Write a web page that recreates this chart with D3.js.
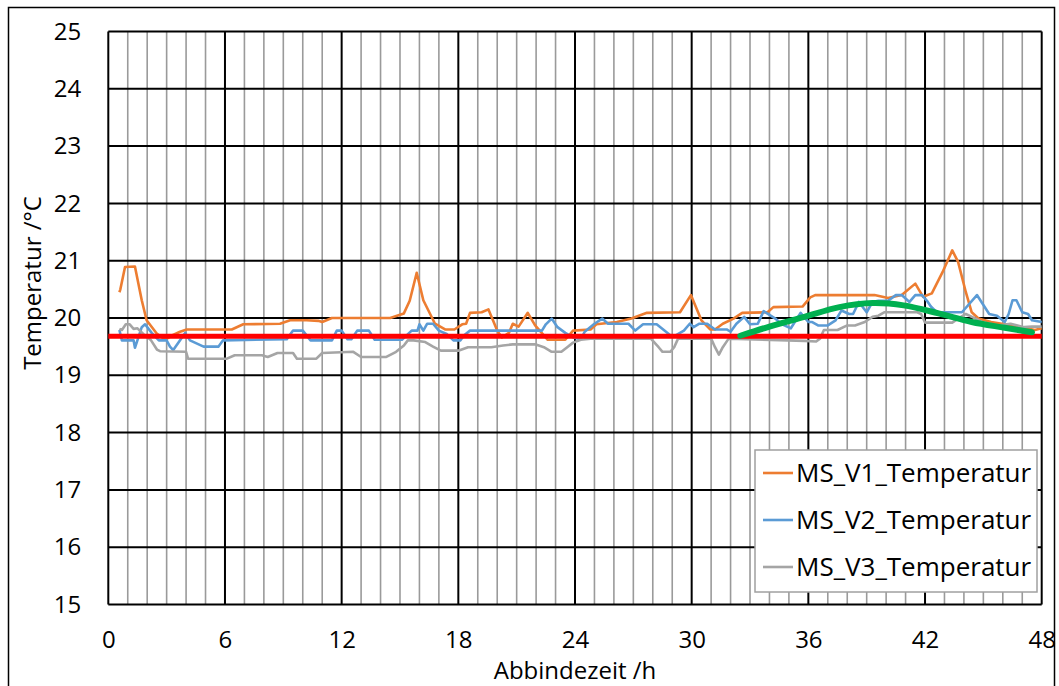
<!DOCTYPE html>
<html>
<head>
<meta charset="utf-8">
<script src="https://cdn.jsdelivr.net/npm/d3@7"></script>
<style>
  body { margin: 0; background: #fff; }
  text { font-family: "Open Sans", Lato, sans-serif; fill: #000; }
</style>
</head>
<body>
<div id="chart"></div>
<script>
// Zeit in h, Temperatur in °C
var v1 = [[0.57,20.45],[0.62,20.5],[0.86,20.89],[1.37,20.9],[1.72,20.31],[1.97,19.96],[2.49,19.73],[2.92,19.62],[3.3,19.7],[3.69,19.76],[4.03,19.8],[6.35,19.8],[6.94,19.89],[8.83,19.9],[9.35,19.96],[10.2,19.96],[10.8,19.95],[11.0,19.93],[11.5,20.0],[14.5,20.0],[15.2,20.08],[15.5,20.3],[15.86,20.79],[16.2,20.31],[16.8,19.9],[17.32,19.8],[17.8,19.8],[18.2,19.89],[18.4,19.9],[18.6,20.09],[19.2,20.1],[19.55,20.15],[20.0,19.78],[20.24,19.66],[20.6,19.74],[20.8,19.9],[21.1,19.85],[21.57,20.09],[21.95,19.87],[22.6,19.62],[23.5,19.62],[23.9,19.78],[24.8,19.8],[25.1,19.89],[26.15,19.93],[26.9,19.99],[27.7,20.09],[29.4,20.1],[29.96,20.4],[30.5,19.96],[30.95,19.8],[31.2,19.8],[31.6,19.9],[32.15,19.99],[32.6,20.09],[33.9,20.1],[34.2,20.19],[35.7,20.2],[36.1,20.36],[36.35,20.4],[39.4,20.4],[40.1,20.35],[40.8,20.4],[41.5,20.6],[41.9,20.37],[42.35,20.43],[42.9,20.8],[43.4,21.18],[43.7,20.98],[44.1,20.45],[44.4,20.1],[44.75,19.99],[45.4,19.93],[46.1,19.89],[46.8,19.85],[47.65,19.79],[48,19.82]];

var v2 = [[0.57,19.79],[0.7,19.61],[1.3,19.61],[1.37,19.48],[1.72,19.84],[1.89,19.89],[2.23,19.74],[2.6,19.61],[3.0,19.61],[3.17,19.5],[3.34,19.44],[3.69,19.61],[3.95,19.74],[4.2,19.61],[4.9,19.5],[5.66,19.5],[5.9,19.61],[9.18,19.63],[9.5,19.78],[10.0,19.78],[10.4,19.61],[11.5,19.61],[11.75,19.78],[12.0,19.78],[12.3,19.63],[12.5,19.63],[12.8,19.78],[13.4,19.78],[13.7,19.62],[15.1,19.62],[15.6,19.78],[15.9,19.78],[16.0,19.89],[16.2,19.78],[16.4,19.9],[16.7,19.9],[17.0,19.78],[17.4,19.72],[17.75,19.61],[18.1,19.61],[18.3,19.7],[18.6,19.78],[22.3,19.78],[22.5,19.89],[22.8,19.99],[23.1,19.84],[23.5,19.74],[23.9,19.66],[24.3,19.63],[24.5,19.76],[25.0,19.9],[25.4,19.99],[25.7,19.9],[26.75,19.9],[27.1,19.78],[27.5,19.89],[28.2,19.89],[28.6,19.78],[28.9,19.7],[29.2,19.7],[29.6,19.78],[29.9,19.9],[30.1,19.84],[30.4,19.9],[30.8,19.9],[31.2,19.8],[31.8,19.8],[32.0,19.76],[32.3,19.9],[32.7,20.02],[33.0,19.89],[33.4,19.9],[33.7,20.12],[34.3,19.99],[34.6,19.9],[35.1,19.82],[35.6,20.09],[36.0,19.93],[36.2,19.93],[36.5,19.87],[37.0,19.87],[37.4,19.96],[37.7,20.13],[38.1,20.07],[38.3,20.07],[38.6,20.28],[39.0,20.1],[39.3,20.28],[39.6,20.3],[40.1,20.3],[40.5,20.4],[40.8,20.4],[41.2,20.28],[41.5,20.4],[41.85,20.4],[42.1,20.3],[42.3,20.2],[42.6,20.1],[43.9,20.1],[44.67,20.4],[45.3,20.07],[45.7,20.04],[46.1,19.93],[46.3,20.07],[46.5,20.31],[46.7,20.31],[47.0,20.1],[47.3,20.07],[47.5,19.96],[48,19.93]];

var v3 = [[0.57,19.81],[0.7,19.79],[0.9,19.89],[1.1,19.89],[1.3,19.81],[1.5,19.82],[1.8,19.72],[2.2,19.61],[2.5,19.45],[2.66,19.42],[4.0,19.41],[4.1,19.29],[6.1,19.29],[6.5,19.35],[7.9,19.35],[8.2,19.32],[8.7,19.39],[9.5,19.39],[9.7,19.29],[10.7,19.29],[11.0,19.39],[12.6,19.41],[13.0,19.32],[14.3,19.32],[14.8,19.41],[15.2,19.52],[15.4,19.61],[15.7,19.61],[16.3,19.58],[16.7,19.5],[17.1,19.43],[18.0,19.43],[18.5,19.49],[19.7,19.49],[20.3,19.52],[20.8,19.54],[21.95,19.54],[22.4,19.49],[22.8,19.41],[23.3,19.41],[23.6,19.49],[23.9,19.57],[24.3,19.62],[24.8,19.64],[27.9,19.64],[28.3,19.49],[28.5,19.41],[28.9,19.41],[29.1,19.49],[29.3,19.64],[31.0,19.64],[31.2,19.49],[31.4,19.36],[31.6,19.49],[31.9,19.64],[35.8,19.6],[36.4,19.59],[36.6,19.64],[36.8,19.79],[37.5,19.79],[38.0,19.87],[38.4,19.87],[38.9,19.93],[39.3,20.02],[39.6,20.04],[39.9,20.1],[41.6,20.1],[41.8,20.07],[42.0,19.92],[43.4,19.92],[43.7,19.99],[44.1,20.07],[44.6,19.99],[45.0,19.92],[45.75,19.87],[46.4,19.9],[47.1,19.84],[47.5,19.85],[48,19.85]];

// rote Grenzlinie und grüne Trendkurve
var redLine = [[0,19.68],[48,19.68]];
var greenCurve = [[32.5,19.69],[34,19.85],[35.8,20.02],[37.6,20.19],[39.3,20.26],[40.9,20.22],[42.7,20.08],[44.4,19.93],[46.1,19.83],[47.5,19.75]];

var seriesNames = ["MS_V1_Temperatur", "MS_V2_Temperatur", "MS_V3_Temperatur"];
var seriesColors = ["#ED7D31", "#5B9BD5", "#A5A5A5"];
var xTicks = [0, 6, 12, 18, 24, 30, 36, 42, 48];
var yTicks = [15, 16, 17, 18, 19, 20, 21, 22, 23, 24, 25];

var width = 1059, height = 686;
var margin = { left: 108.3, right: 1059 - 1041.7, top: 31.5, bottom: 686 - 604.5 };

var svg = d3.select("#chart")
    .append("svg")
    .attr("width", width)
    .attr("height", height);

// Diagrammrahmen
svg.append("rect")
    .attr("x", 8.5).attr("y", 7.5)
    .attr("width", 1046).attr("height", 700)
    .attr("fill", "none")
    .attr("stroke", "#000")
    .attr("stroke-width", 1.5);

var x = d3.scaleLinear().domain([0, 48]).range([margin.left, width - margin.right]);
var y = d3.scaleLinear().domain([15, 25]).range([height - margin.bottom, margin.top]);

var grid = svg.append("g");

// Nebengitter: jede Stunde
grid.selectAll("line.minor")
    .data(d3.range(1, 48).filter(h => h % 6 !== 0))
    .join("line")
    .attr("class", "minor")
    .attr("x1", d => x(d)).attr("x2", d => x(d))
    .attr("y1", y(15)).attr("y2", y(25))
    .attr("stroke", "#9a9a9a")
    .attr("stroke-width", 1.6);

grid.selectAll("line.xmajor")
    .data(xTicks)
    .join("line")
    .attr("class", "xmajor")
    .attr("x1", d => x(d)).attr("x2", d => x(d))
    .attr("y1", y(15)).attr("y2", y(25))
    .attr("stroke", "#000")
    .attr("stroke-width", 2);

grid.selectAll("line.ymajor")
    .data(yTicks)
    .join("line")
    .attr("class", "ymajor")
    .attr("x1", x(0)).attr("x2", x(48))
    .attr("y1", d => y(d)).attr("y2", d => y(d))
    .attr("stroke", "#000")
    .attr("stroke-width", 2);

// Achsen (nur Beschriftung)
var xAxis = svg.append("g")
    .attr("transform", `translate(0,${y(15)})`)
    .call(d3.axisBottom(x).tickValues(xTicks).tickSize(0).tickPadding(26));
xAxis.select(".domain").remove();
xAxis.selectAll("text").style("font-size", "24px").style("font-family", "'Open Sans', sans-serif");

var yAxis = svg.append("g")
    .attr("transform", `translate(${x(0)},0)`)
    .call(d3.axisLeft(y).tickValues(yTicks).tickSize(0).tickPadding(27));
yAxis.select(".domain").remove();
yAxis.selectAll("text").style("font-size", "24px").style("font-family", "'Open Sans', sans-serif");

var line = d3.line()
    .x(d => x(d[0]))
    .y(d => y(d[1]));

svg.append("g")
    .attr("fill", "none")
    .attr("stroke-width", 2.6)
    .attr("stroke-linejoin", "round")
    .selectAll("path")
    .data([v1, v2, v3])
    .join("path")
    .attr("d", line)
    .attr("stroke", (d, i) => seriesColors[i]);

svg.append("path")
    .attr("d", line(redLine))
    .attr("fill", "none")
    .attr("stroke", "#FF0000")
    .attr("stroke-width", 5);

svg.append("path")
    .attr("d", line.curve(d3.curveCatmullRom)(greenCurve))
    .attr("fill", "none")
    .attr("stroke", "#00B050")
    .attr("stroke-width", 6)
    .attr("stroke-linecap", "round");

// Achsentitel
svg.append("text")
    .attr("x", 575).attr("y", 679)
    .attr("text-anchor", "middle")
    .style("font-size", "24px")
    .text("Abbindezeit /h");

svg.append("text")
    .attr("transform", "translate(41,283) rotate(-90)")
    .attr("text-anchor", "middle")
    .style("font-size", "24px")
    .text("Temperatur /°C");

// Legende
var legend = svg.append("g").attr("transform", "translate(755,450)");
legend.append("rect")
    .attr("width", 282).attr("height", 142)
    .attr("fill", "#fff")
    .attr("stroke", "#a0a0a0")
    .attr("stroke-width", 1.5);

var item = legend.selectAll("g.item")
    .data(seriesNames)
    .join("g")
    .attr("class", "item")
    .attr("transform", (d, i) => `translate(0,${23 + i * 47})`);

item.append("line")
    .attr("x1", 8).attr("x2", 38)
    .attr("stroke", (d, i) => seriesColors[i])
    .attr("stroke-width", 2.6);

item.append("text")
    .attr("x", 41).attr("dy", "0.35em")
    .style("font-size", "26px")
    .text(d => d);
</script>
</body>
</html>
